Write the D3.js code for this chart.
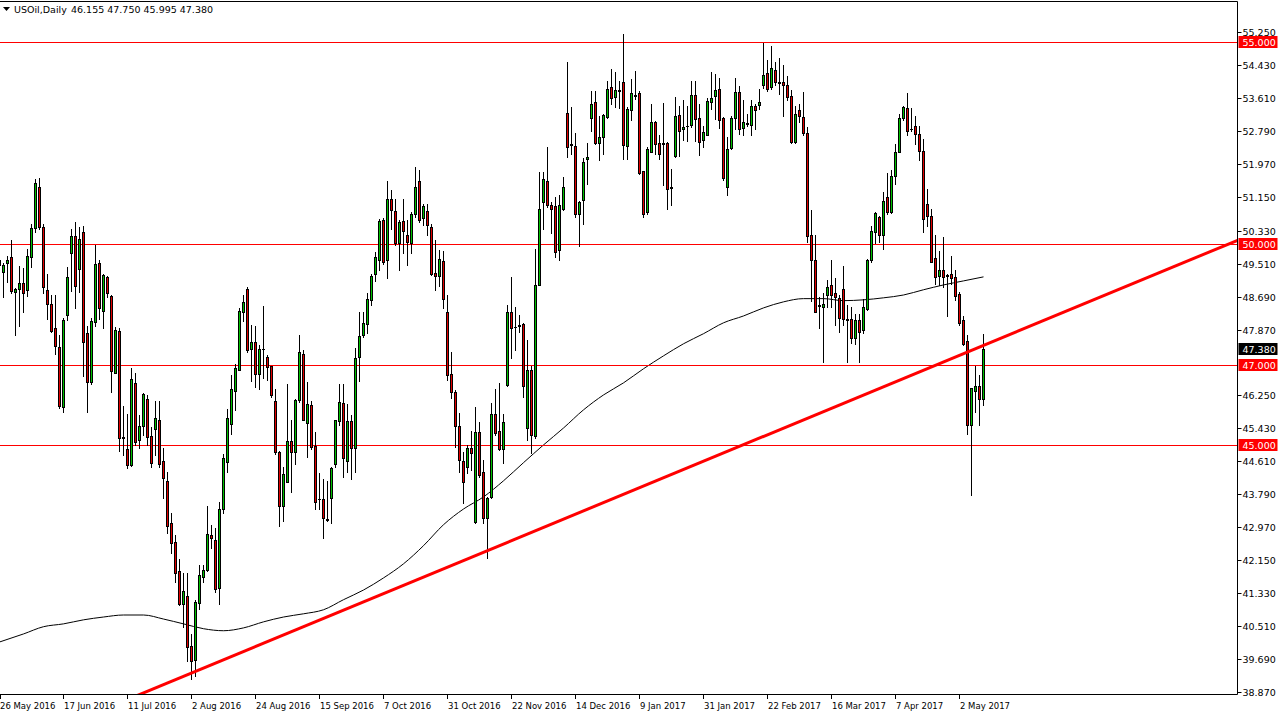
<!DOCTYPE html>
<html>
<head>
<meta charset="utf-8">
<script src="https://cdn.jsdelivr.net/npm/d3@7"></script>
<style>
  body { margin: 0; background: #fff; }
  svg { display: block; font-family: "DejaVu Sans", sans-serif; }
</style>
</head>
<body>
<div id="chart"></div>
<script>
const symbol = "USOil,Daily";

// daily OHLC, first bar is the one cut by the left edge (26 May 2016)
const opens = [
  49.60, 49.31, 49.53, 49.68, 48.81, 48.88, 49.02, 48.86, 49.68, 50.40,
  51.41, 50.42, 48.86, 48.51, 47.90, 47.45, 45.96, 48.23, 49.78, 50.20,
  49.37, 50.30, 47.78, 46.58, 48.07, 49.53, 48.34, 49.18, 48.71, 46.80,
  47.84, 45.20, 44.90, 44.51, 46.55, 45.12, 45.49, 46.14, 45.22, 45.40,
  45.64, 44.60, 44.12, 43.08, 42.60, 41.88, 41.06, 41.26, 40.01, 39.67,
  41.08, 41.74, 41.91, 42.78, 42.66, 41.45, 43.41, 44.58, 45.52, 46.34,
  46.88, 48.30, 48.88, 47.39, 47.56, 46.76, 47.39, 47.18, 46.97, 46.10,
  44.83, 43.49, 44.10, 45.10, 44.83, 46.12, 47.26, 45.56, 46.01, 44.99,
  43.68, 43.68, 43.17, 43.70, 44.53, 45.61, 46.06, 44.62, 45.61, 44.94,
  47.18, 47.74, 48.01, 48.60, 49.25, 49.60, 50.59, 49.60, 51.10, 50.82,
  50.01, 50.57, 50.23, 50.02, 50.75, 51.56, 50.64, 50.81, 50.42, 49.28,
  49.21, 49.58, 48.31, 46.76, 46.33, 45.49, 44.62, 44.45, 44.94, 43.11,
  45.32, 44.35, 43.19, 43.73, 45.77, 45.35, 44.92, 46.50, 48.32, 47.93,
  47.96, 48.00, 45.43, 46.87, 45.22, 48.98, 51.04, 51.56, 50.97, 50.94,
  49.84, 50.87, 53.25, 52.48, 52.43, 50.75, 51.08, 52.11, 53.12, 53.51,
  52.51, 52.65, 53.14, 53.90, 53.64, 53.81, 54.01, 52.43, 53.31, 53.69,
  53.75, 51.81, 50.78, 52.29, 53.02, 52.50, 52.50, 52.50, 51.40, 52.19,
  53.20, 52.84, 52.92, 52.94, 53.70, 53.12, 52.57, 52.71, 53.53, 53.66,
  53.84, 53.12, 51.41, 52.38, 53.12, 53.76, 52.88, 52.99, 52.96, 53.43,
  53.45, 53.94, 54.24, 53.89, 54.32, 54.02, 54.01, 53.93, 53.66, 52.52,
  53.33, 53.14, 52.76, 50.21, 49.61, 48.47, 48.44, 48.72, 48.97, 48.78,
  48.66, 48.87, 48.14, 48.14, 47.66, 48.10, 47.85, 48.39, 49.59, 50.29,
  50.66, 50.22, 51.16, 50.79, 51.69, 52.29, 53.12, 53.36, 52.86, 52.93,
  52.73, 52.31, 50.99, 50.70, 49.65, 49.20, 49.36, 49.22, 49.26, 49.17,
  48.76, 48.12, 47.59, 45.50, 46.36, 46.47, 46.155
];
const highs = [
  49.70, 49.53, 49.70, 50.09, 48.91, 49.45, 49.39, 49.88, 50.50, 51.62,
  51.64, 50.50, 49.26, 48.73, 48.73, 47.74, 48.17, 49.42, 50.38, 50.53,
  50.42, 50.45, 47.96, 48.15, 49.98, 49.60, 49.24, 49.21, 48.73, 47.93,
  47.90, 45.98, 45.78, 46.91, 46.79, 45.75, 46.29, 46.24, 45.46, 46.10,
  46.10, 44.94, 44.33, 43.33, 42.78, 42.17, 41.83, 41.83, 40.33, 41.16,
  42.03, 42.03, 43.49, 43.03, 42.95, 43.59, 44.78, 45.91, 46.74, 47.03,
  48.41, 48.74, 48.93, 47.99, 47.95, 47.49, 48.45, 47.23, 46.98, 46.41,
  44.87, 44.45, 46.53, 45.62, 46.16, 47.74, 47.37, 46.58, 46.09, 45.33,
  44.31, 44.16, 44.12, 44.47, 45.63, 46.51, 46.51, 46.02, 45.75, 47.42,
  48.30, 48.30, 48.77, 49.26, 49.80, 50.61, 50.63, 51.56, 51.33, 51.12,
  50.59, 51.12, 50.59, 50.79, 51.91, 51.83, 51.00, 51.00, 50.50, 50.09,
  49.84, 49.82, 48.73, 47.32, 46.37, 45.79, 44.84, 45.01, 45.36, 45.96,
  45.59, 44.64, 43.73, 46.04, 46.41, 46.54, 45.78, 48.48, 49.18, 48.42,
  48.23, 48.03, 47.62, 46.96, 49.88, 51.78, 51.78, 52.40, 51.04, 51.16,
  51.20, 51.66, 54.50, 53.39, 52.76, 51.06, 52.13, 52.51, 53.79, 53.80,
  53.17, 53.23, 54.05, 54.34, 54.26, 54.05, 55.21, 53.39, 54.09, 54.30,
  53.80, 51.81, 52.40, 53.47, 53.04, 52.69, 53.50, 52.52, 51.86, 53.64,
  53.43, 53.56, 53.43, 54.05, 54.05, 53.47, 52.92, 53.61, 54.27, 54.22,
  54.11, 53.14, 52.65, 53.17, 54.11, 53.91, 53.56, 53.23, 53.58, 53.47,
  53.83, 54.98, 54.55, 54.92, 54.50, 54.60, 54.44, 54.17, 53.82, 53.43,
  53.47, 53.76, 52.90, 50.83, 50.21, 48.69, 48.77, 49.09, 49.60, 49.15,
  48.72, 49.45, 48.47, 48.43, 48.26, 48.26, 48.62, 49.63, 50.45, 50.79,
  50.70, 51.28, 51.76, 51.82, 52.48, 53.22, 53.43, 53.74, 53.36, 53.18,
  52.93, 52.59, 51.36, 50.87, 50.21, 49.81, 50.17, 49.26, 49.71, 49.34,
  48.80, 48.21, 47.73, 46.42, 46.98, 46.74, 47.75
];
const lows = [
  49.06, 48.69, 49.06, 48.79, 47.74, 47.96, 48.31, 48.70, 49.42, 50.30,
  50.36, 48.79, 48.13, 47.82, 47.26, 45.92, 45.83, 48.11, 48.83, 48.40,
  48.81, 46.73, 45.83, 46.52, 47.97, 48.13, 47.90, 48.69, 46.33, 46.79,
  44.86, 44.76, 44.43, 44.49, 45.01, 44.94, 45.26, 45.01, 44.45, 44.76,
  44.47, 43.70, 42.83, 42.33, 41.62, 41.03, 40.49, 39.66, 39.20, 39.28,
  40.95, 41.62, 41.87, 42.45, 41.37, 41.06, 43.33, 44.34, 45.28, 45.87,
  46.87, 48.08, 47.31, 46.59, 46.45, 46.41, 46.66, 46.62, 46.20, 44.78,
  42.99, 43.12, 44.08, 43.83, 44.53, 46.08, 45.62, 44.70, 44.90, 43.41,
  43.41, 42.70, 43.12, 43.07, 44.47, 45.50, 44.22, 44.35, 44.17, 44.35,
  46.60, 47.70, 47.78, 48.48, 49.07, 49.35, 49.49, 49.14, 50.38, 49.97,
  49.35, 49.76, 49.47, 49.78, 50.67, 50.55, 50.46, 50.21, 49.22, 48.85,
  48.96, 48.41, 46.62, 46.18, 44.97, 44.35, 43.56, 44.31, 44.39, 43.07,
  44.22, 43.07, 42.20, 43.70, 45.26, 44.89, 44.56, 46.46, 47.16, 47.37,
  47.82, 46.21, 45.14, 44.81, 45.18, 48.98, 50.38, 50.92, 50.26, 49.68,
  49.60, 50.83, 52.15, 52.24, 50.67, 49.95, 50.50, 51.49, 52.81, 52.48,
  52.07, 52.24, 53.12, 53.47, 53.39, 53.37, 52.11, 52.11, 53.06, 53.60,
  51.74, 50.67, 50.75, 52.28, 52.24, 52.10, 51.47, 50.87, 50.97, 52.15,
  52.19, 52.57, 52.54, 52.90, 52.54, 52.21, 52.40, 52.69, 53.35, 53.10,
  52.87, 51.59, 51.20, 52.36, 52.85, 52.73, 52.69, 52.92, 52.69, 52.85,
  53.35, 53.87, 53.80, 53.84, 53.93, 53.72, 53.17, 53.56, 52.51, 52.51,
  53.02, 52.71, 50.05, 48.58, 48.30, 47.90, 47.08, 48.42, 48.43, 47.98,
  47.81, 47.98, 47.07, 47.55, 47.52, 47.07, 47.79, 48.36, 49.56, 50.02,
  50.04, 49.88, 50.74, 50.77, 51.49, 52.27, 53.06, 52.70, 52.79, 52.48,
  52.07, 50.29, 50.45, 49.55, 49.01, 48.97, 48.93, 48.20, 49.01, 48.60,
  47.98, 47.48, 45.29, 43.76, 45.83, 45.50, 45.995
];
const closes = [
  49.47, 49.47, 49.59, 48.83, 48.88, 49.03, 48.79, 49.70, 50.40, 51.52,
  50.42, 48.93, 48.50, 47.84, 47.47, 45.98, 48.12, 49.18, 50.20, 48.95,
  50.13, 47.57, 46.58, 48.09, 49.50, 48.40, 49.22, 48.78, 46.85, 47.87,
  45.19, 45.19, 44.50, 46.64, 45.09, 45.49, 46.28, 45.21, 44.57, 45.67,
  44.53, 44.18, 42.99, 42.58, 41.84, 41.06, 41.38, 39.99, 39.66, 41.12,
  41.78, 41.91, 42.81, 42.70, 41.43, 43.41, 44.68, 45.68, 46.41, 46.93,
  48.33, 48.55, 47.37, 47.56, 46.77, 47.38, 47.38, 46.95, 46.24, 44.83,
  43.49, 44.30, 45.10, 44.84, 46.13, 47.31, 45.64, 46.03, 44.95, 43.59,
  43.66, 43.20, 43.15, 44.43, 45.62, 46.08, 44.69, 45.61, 44.93, 47.16,
  47.72, 48.04, 48.64, 49.20, 49.68, 50.56, 49.55, 51.12, 50.83, 50.01,
  50.53, 50.31, 50.05, 50.75, 51.41, 50.59, 50.94, 50.46, 49.26, 49.21,
  49.62, 48.62, 46.74, 46.33, 45.48, 44.64, 44.10, 44.94, 44.82, 45.32,
  44.26, 43.19, 43.70, 45.77, 45.31, 44.92, 45.59, 48.32, 47.90, 47.93,
  47.98, 46.48, 46.87, 45.25, 48.98, 50.87, 51.62, 50.96, 50.87, 49.80,
  50.96, 51.41, 52.40, 52.46, 50.75, 51.04, 52.03, 52.15, 53.47, 52.51,
  52.65, 53.20, 53.84, 53.61, 53.82, 53.80, 52.44, 53.35, 53.75, 53.67,
  51.76, 50.73, 52.36, 53.02, 52.47, 52.24, 52.48, 51.35, 51.39, 53.17,
  52.81, 52.90, 52.92, 53.70, 53.09, 52.52, 52.77, 53.54, 53.62, 53.82,
  53.06, 51.64, 52.36, 53.12, 53.76, 52.84, 53.02, 52.97, 53.43, 53.33,
  53.53, 54.20, 53.84, 54.36, 54.01, 54.00, 53.94, 53.64, 52.52, 53.23,
  53.17, 52.76, 50.20, 49.60, 48.32, 48.45, 48.50, 48.93, 48.72, 48.69,
  48.16, 48.14, 48.11, 47.66, 48.10, 47.81, 48.43, 49.59, 50.31, 50.77,
  50.22, 51.07, 50.79, 51.69, 52.27, 53.12, 53.39, 52.81, 52.84, 52.73,
  52.31, 50.62, 50.69, 49.56, 49.17, 49.36, 49.17, 49.21, 49.15, 48.70,
  48.03, 47.52, 45.50, 46.42, 46.47, 46.14, 47.38
];

// one date label every 16 bars
const dateLabels = [
  "26 May 2016", "17 Jun 2016", "11 Jul 2016", "2 Aug 2016", "24 Aug 2016",
  "15 Sep 2016", "7 Oct 2016", "31 Oct 2016", "22 Nov 2016", "14 Dec 2016",
  "9 Jan 2017", "31 Jan 2017", "22 Feb 2017", "16 Mar 2017", "7 Apr 2017", "2 May 2017"
];
const labelStep = 16;

const priceTicks = [
  "55.250", "54.430", "53.610", "52.790", "51.970", "51.150", "50.330", "49.510",
  "48.690", "47.870", "46.250", "45.430", "44.610", "43.790", "42.970", "42.150",
  "41.330", "40.510", "39.690", "38.870"
];

// horizontal support / resistance lines
const levels = [55, 50, 47, 45];

// moving average
const maBars = [0, 6, 11, 16, 21, 26, 31, 36, 41, 46, 51, 56, 61, 66, 71, 76, 81, 86, 91, 96,
  101, 106, 111, 116, 121, 126, 131, 136, 141, 146, 151, 156, 161, 166, 171, 176, 181, 186, 191, 196,
  201, 206, 211, 216, 221, 226, 231, 236, 241, 246];
const maValues = [40.12, 40.32, 40.50, 40.57, 40.67, 40.74, 40.79, 40.79, 40.69, 40.57,
  40.45, 40.40, 40.47, 40.62, 40.74, 40.82, 40.92, 41.17, 41.41, 41.71,
  42.06, 42.51, 43.03, 43.42, 43.72, 44.12, 44.57, 45.01, 45.43, 45.88,
  46.25, 46.55, 46.90, 47.22, 47.52, 47.77, 48.04, 48.21, 48.41, 48.56,
  48.64, 48.64, 48.59, 48.61, 48.66, 48.73, 48.86, 48.98, 49.08, 49.18];

// trend line anchors (bar, price)
const trendBars = [48, 246];
const trendPrices = [39.35, 47.48];

const W = 1278, H = 717;
const plot = {left: 0, top: 1, right: 1237, bottom: 694};

const bars = opens.map((o, i) => ({i: i, o: o, h: highs[i], l: lows[i], c: closes[i]}));
const last = bars[bars.length - 1];

const x = d3.scaleLinear().domain([0, 246]).range([-0.5, 983.5]);
const y = d3.scaleLinear().domain([38.83, 56.0]).range([694, 2]);
const py = v => Math.round(y(v)) + 0.5;

const svg = d3.select("#chart").append("svg")
    .attr("width", W)
    .attr("height", H);

svg.append("rect").attr("width", W).attr("height", H).attr("fill", "#fff");

svg.append("defs").append("clipPath").attr("id", "plotClip")
  .append("rect")
    .attr("x", plot.left).attr("y", plot.top)
    .attr("width", plot.right - plot.left).attr("height", plot.bottom - plot.top);

const g = svg.append("g").attr("clip-path", "url(#plotClip)");

// moving average
const maLine = d3.line()
    .x((d, i) => x(maBars[i]))
    .y(d => y(d))
    .curve(d3.curveMonotoneX);
g.append("path")
    .attr("d", maLine(maValues))
    .attr("fill", "none")
    .attr("stroke", "#000")
    .attr("stroke-width", 1);

// horizontal levels
g.selectAll("line.level").data(levels).join("line")
    .attr("class", "level")
    .attr("x1", plot.left).attr("x2", plot.right)
    .attr("y1", d => py(d)).attr("y2", d => py(d))
    .attr("stroke", "#ff0000")
    .attr("stroke-width", 1);

// candles
const wicks = g.append("g");
wicks.selectAll("line").data(bars).join("line")
    .attr("x1", d => x(d.i)).attr("x2", d => x(d.i))
    .attr("y1", d => Math.round(y(d.h)))
    .attr("y2", d => Math.round(y(d.l)) + 1)
    .attr("stroke", "#000")
    .attr("stroke-width", 1);

const bodies = g.append("g");
bodies.selectAll("rect").data(bars.filter(d => Math.round(y(d.o)) !== Math.round(y(d.c)))).join("rect")
    .attr("x", d => x(d.i) - 1)
    .attr("width", 2)
    .attr("y", d => Math.round(y(Math.max(d.o, d.c))) + 0.5)
    .attr("height", d => Math.round(y(Math.min(d.o, d.c))) - Math.round(y(Math.max(d.o, d.c))))
    .attr("fill", d => d.c > d.o ? "#00c000" : "#e00000")
    .attr("stroke", "#000")
    .attr("stroke-width", 1);

bodies.selectAll("line").data(bars.filter(d => Math.round(y(d.o)) === Math.round(y(d.c)))).join("line")
    .attr("x1", d => x(d.i) - 1.5).attr("x2", d => x(d.i) + 1.5)
    .attr("y1", d => py(d.c)).attr("y2", d => py(d.c))
    .attr("stroke", "#000")
    .attr("stroke-width", 1);

// trend line, extended across the plot
const slope = (trendPrices[1] - trendPrices[0]) / (trendBars[1] - trendBars[0]);
const tFrom = -20, tTo = 330;
g.append("line")
    .attr("x1", x(tFrom)).attr("y1", y(trendPrices[0] + (tFrom - trendBars[0]) * slope))
    .attr("x2", x(tTo)).attr("y2", y(trendPrices[0] + (tTo - trendBars[0]) * slope))
    .attr("stroke", "#ff0000")
    .attr("stroke-width", 3);

// frame
svg.append("path")
    .attr("d", `M${plot.left},${plot.top + 0.5}H${plot.right + 0.5}V${plot.bottom + 0.5}H${plot.left}`)
    .attr("fill", "none")
    .attr("stroke", "#000")
    .attr("stroke-width", 1);

// price axis
const axisX = plot.right + 0.5;
const pt = svg.append("g").selectAll("g").data(priceTicks).join("g")
    .attr("transform", d => `translate(0,${py(+d)})`);
pt.append("line").attr("x1", axisX).attr("x2", axisX + 4).attr("stroke", "#000");
pt.append("text")
    .attr("x", axisX + 5)
    .attr("y", 3.5)
    .attr("font-size", 9.5)
    .attr("fill", "#000")
    .text(d => d);

const tags = levels.map(v => ({v: v, bg: "#ff0000", txt: v.toFixed(3)}))
    .concat([{v: last.c, bg: "#000", txt: last.c.toFixed(3)}]);
const tg = svg.append("g").selectAll("g").data(tags).join("g")
    .attr("transform", d => `translate(0,${Math.round(y(d.v))})`);
tg.append("rect")
    .attr("x", axisX + 1).attr("y", -6)
    .attr("width", 39).attr("height", 12)
    .attr("fill", d => d.bg);
tg.append("text")
    .attr("x", axisX + 5)
    .attr("y", 4)
    .attr("font-size", 9.5)
    .attr("fill", "#fff")
    .text(d => d.txt);

// time axis
const dt = svg.append("g").selectAll("g").data(dateLabels).join("g")
    .attr("transform", (d, i) => `translate(${Math.max(0, Math.floor(x(i * labelStep)))},0)`);
dt.append("line")
    .attr("x1", 0.5).attr("x2", 0.5)
    .attr("y1", plot.bottom).attr("y2", plot.bottom + 5)
    .attr("stroke", "#000");
dt.append("text")
    .attr("x", (d, i) => i === 0 ? 0 : 1)
    .attr("y", plot.bottom + 15)
    .attr("font-size", 8.5)
    .attr("fill", "#000")
    .text(d => d);

// header
svg.append("path").attr("d", "M3,7H10L6.5,11Z").attr("fill", "#000");
svg.append("text")
    .attr("x", 14).attr("y", 13)
    .attr("font-size", 9.5)
    .attr("fill", "#000")
    .text(symbol);
svg.append("text")
    .attr("x", 71).attr("y", 13)
    .attr("font-size", 9.5)
    .attr("fill", "#000")
    .text([last.o, last.h, last.l, last.c].map(v => v.toFixed(3)).join(" "));
</script>
</body>
</html>
